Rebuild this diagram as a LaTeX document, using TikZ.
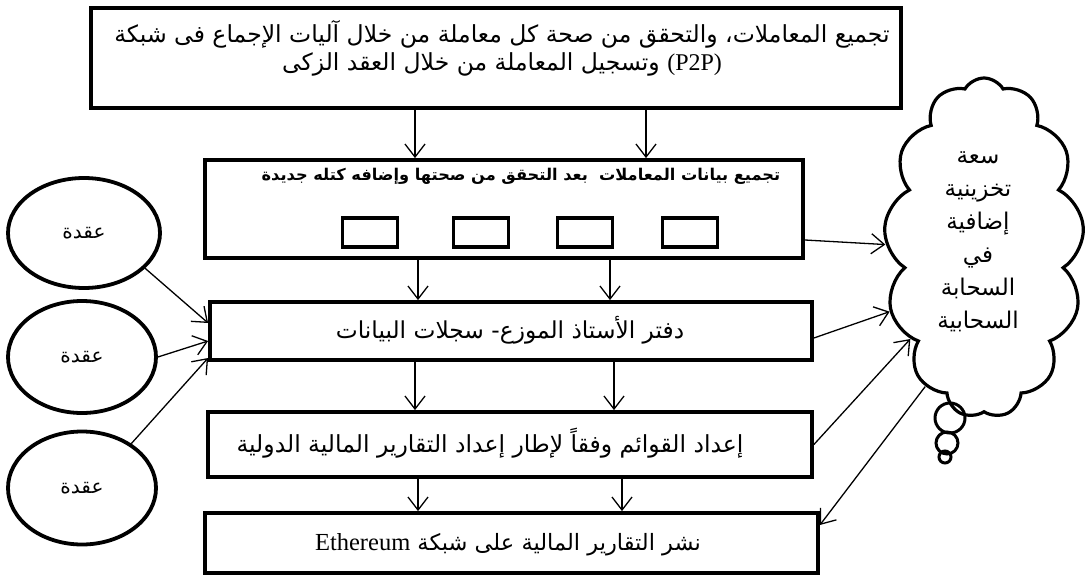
\documentclass[tikz,border=0pt]{standalone}
\usepackage{fontspec}
\setmainfont{Liberation Serif}
\newfontfamily\ar[Script=Arabic]{DejaVu Sans}
\TeXXeTstate=1
\usetikzlibrary{arrows.meta,shapes.geometric,shapes.symbols,calc}
\begin{document}
\begin{tikzpicture}[x=1pt,y=-1pt,
 box/.style={draw, line width=3.8pt, inner sep=0pt},
 blk/.style={draw, line width=3.8pt, minimum width=55pt, minimum height=29pt, inner sep=0pt},
 nd/.style={ellipse, draw, line width=3.8pt, inner sep=0pt},
 txt/.style={inner sep=0pt, align=center},
 bub/.style={draw, circle, line width=3pt, inner sep=0pt},
 arr/.style={line width=1.3pt, -{Straight Barb[length=13pt,width=20pt,line width=1.3pt]}},
]
\useasboundingbox (0,0) rectangle (1091,578);
% main boxes
\node[box, minimum width=810pt, minimum height=100pt] (b1) at (496,58) {};
\node[box, minimum width=598pt, minimum height=98pt] (b2) at (504,209) {};
\node[box, minimum width=602pt, minimum height=58pt] (b3) at (511,331) {};
\node[box, minimum width=604pt, minimum height=65pt] (b4) at (510,444.5) {};
\node[box, minimum width=613pt, minimum height=60pt] (b5) at (511.5,543) {};
% texts
\node[txt, font=\fontsize{23.5}{28}\selectfont] (t1) at (502,48)
 {{\ar\beginR تجميع المعاملات، والتحقق من صحة كل معاملة من خلال آليات الإجماع فى شبكة\endR}\\
  {\ar\beginR\beginL{\rmfamily\fontsize{24}{28}\selectfont(P2P)}\endL{} وتسجيل المعاملة من خلال العقد الزكى\endR}};
\node[txt, font=\fontsize{16.2}{18}\selectfont\bfseries] (t2) at (521,176)
 {\ar\beginR تجميع بيانات المعاملات \ بعد التحقق من صحتها وإضافه كتله جديدة\endR};
\node[txt, font=\fontsize{23.3}{26}\selectfont] (t3) at (510,330)
 {\ar\beginR دفتر الأستاذ الموزع- سجلات البيانات\endR};
\node[txt, font=\fontsize{23.5}{26}\selectfont] (t4) at (490,443)
 {\ar\beginR إعداد القوائم وفقاً لإطار إعداد التقارير المالية الدولية\endR};
\node[txt, font=\fontsize{22.5}{26}\selectfont] (t5) at (508,545)
 {\ar\beginR نشر التقارير المالية على شبكة \beginL{\rmfamily\fontsize{24.5}{26}\selectfont Ethereum}\endL\endR};
% blocks
\node[blk] (k1) at (370,232.5) {};
\node[blk] (k2) at (481,232.5) {};
\node[blk] (k3) at (585,232.5) {};
\node[blk] (k4) at (690,232.5) {};
% ellipses
\node[nd, minimum width=152pt, minimum height=110pt] (e1) at (84,233) {};
\node[nd, minimum width=148pt, minimum height=112pt] (e2) at (82,357) {};
\node[nd, minimum width=148pt, minimum height=113pt] (e3) at (82,488) {};
\node[txt, font=\fontsize{20}{22}\selectfont] (et1) at (e1) {\ar\beginR عقدة\endR};
\node[txt, font=\fontsize{20}{22}\selectfont] (et2) at (e2) {\ar\beginR عقدة\endR};
\node[txt, font=\fontsize{20}{22}\selectfont] (et3) at (e3) {\ar\beginR عقدة\endR};
% cloud
\node[cloud, draw, line width=3.2pt, cloud puffs=13, cloud puff arc=120, cloud ignores aspect,
      minimum width=200pt, minimum height=340pt, inner sep=0pt] (cl) at (984,248) {};
\node[txt, font=\fontsize{23}{33}\selectfont] (ct) at (978,242)
 {{\ar\beginR سعة\endR}\\{\ar\beginR تخزينية\endR}\\{\ar\beginR إضافية\endR}\\{\ar\beginR في\endR}\\{\ar\beginR السحابة\endR}\\{\ar\beginR السحابية\endR}};
\node[bub, minimum size=30pt] (c1) at (950,418) {};
\node[bub, minimum size=22pt] (c2) at (947,443) {};
\node[bub, minimum size=12pt] (c3) at (945,457) {};
% vertical arrows
\draw[arr] (b1.south -| 415,0) -- (b2.north -| 415,0);
\draw[arr] (b1.south -| 646,0) -- (b2.north -| 646,0);
\draw[arr] (b2.south -| 418,0) -- (b3.north -| 418,0);
\draw[arr] (b2.south -| 610,0) -- (b3.north -| 610,0);
\draw[arr] (b3.south -| 415,0) -- (b4.north -| 415,0);
\draw[arr] (b3.south -| 614,0) -- (b4.north -| 614,0);
\draw[arr] (b4.south -| 418,0) -- (b5.north -| 418,0);
\draw[arr] (b4.south -| 622,0) -- (b5.north -| 622,0);
% to cloud
\draw[arr] ([yshift=-31pt]b2.east) -- (cl.178);
\draw[arr] ([yshift=-7pt]b3.east) -- (cl.214);
\draw[arr] (b4.east) -- (cl.231);
\draw[arr] (cl.247) -- ([yshift=18pt]b5.east);
% from ellipses
\draw[arr] (e1.330) -- ([yshift=8pt]b3.west);
\draw[arr] (e2.east) -- ([yshift=-10pt]b3.west);
\draw[arr] (e3.42) -- ([yshift=-27pt]b3.west);
\end{tikzpicture}
\end{document}
